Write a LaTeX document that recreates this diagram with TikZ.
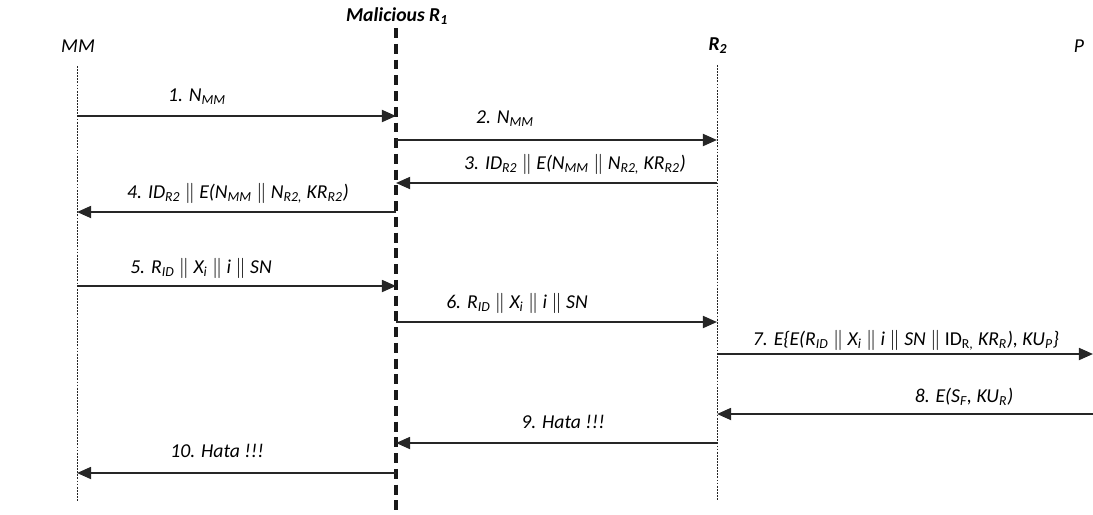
\documentclass[tikz,border=0pt]{standalone}
\usepackage{fontspec}
\setmainfont{Carlito}
\usetikzlibrary{arrows.meta, positioning}

\newcommand{\lo}[1]{\textsubscript{#1}}
\newcommand{\cc}{~$\|$~}

\begin{document}
\begin{tikzpicture}[
    x=0.025cm, y=-0.025cm,
    actor/.style={font=\fontsize{14}{16}\selectfont\itshape, inner sep=0pt},
    lifeline/.style={draw=black!85, line width=0.6pt, dash pattern=on 1.3pt off 0.9pt},
    attacker/.style={draw=black!90, line width=2.3pt, dash pattern=on 7pt off 4.2pt},
    msg/.style={draw=black!85, line width=1.4pt, -{Triangle[length=10pt,width=8.5pt]}},
    lbl/.style={font=\fontsize{14}{16}\selectfont\itshape, inner sep=0pt}
  ]
    \useasboundingbox (0,0) rectangle (1093,514);

    % actors
    \node[actor] (mm) at (78,46) {MM};
    \node[actor, font=\fontsize{14}{16}\selectfont\bfseries\itshape] (ra) at (397,16) {Malicious R\lo{1}};
    \node[actor, font=\fontsize{14}{16}\selectfont\bfseries\itshape] (rb) at (718,46) {R\lo{2}};
    \node[actor] (pp) at (1079,46) {P};

    % lifelines
    \coordinate (mmtop) at (77,66);  \coordinate (mmbot) at (77,502);
    \coordinate (ratop) at (396,28); \coordinate (rabot) at (396,514);
    \coordinate (rbtop) at (717,65); \coordinate (rbbot) at (717,500);
    \draw[lifeline] (mmtop) -- (mmbot);
    \draw[attacker] (ratop) -- (rabot);
    \draw[lifeline] (rbtop) -- (rbbot);

    % message points on the lifelines
    \foreach \n/\y in {1/116,2/140,3/183,4/212,5/286,6/322,7/354,8/414,9/443,10/473}{
      \coordinate (mm\n) at (77,\y);
      \coordinate (ra\n) at (396,\y);
      \coordinate (rb\n) at (717,\y);
      \coordinate (pp\n) at (1093,\y);
    }

    % messages
    \draw[msg] (mm1) -- (ra1);
    \node[lbl] (l1) at (197,97) {1. N\lo{MM}};
    \draw[msg] (ra2) -- (rb2);
    \node[lbl] (l2) at (505,119) {2. N\lo{MM}};
    \draw[msg] (rb3) -- (ra3);
    \node[lbl] (l3) at (575,164) {3. ID\lo{R2}\cc E(N\lo{MM}\cc N\lo{R2,} KR\lo{R2})};
    \draw[msg] (ra4) -- (mm4);
    \node[lbl] (l4) at (238,193) {4. ID\lo{R2}\cc E(N\lo{MM}\cc N\lo{R2,} KR\lo{R2})};
    \draw[msg] (mm5) -- (ra5);
    \node[lbl] (l5) at (201,268) {5. R\lo{ID}\cc X\lo{i}\cc i\cc SN};
    \draw[msg] (ra6) -- (rb6);
    \node[lbl] (l6) at (517,303) {6. R\lo{ID}\cc X\lo{i}\cc i\cc SN};
    \draw[msg] (rb7) -- (pp7);
    \node[lbl] (l7) at (906,340) {7. E\{E(R\lo{ID}\cc X\lo{i}\cc i\cc SN\cc {\upshape ID\lo{R,}} KR\lo{R}), KU\lo{P}\}};
    \draw[msg] (pp8) -- (rb8);
    \node[lbl] (l8) at (964,397) {8. E(S\lo{F}, KU\lo{R})};
    \draw[msg] (rb9) -- (ra9);
    \node[lbl] (l9) at (563,422) {9. Hata !!!};
    \draw[msg] (ra10) -- (mm10);
    \node[lbl] (l10) at (217,451) {10. Hata !!!};
  \end{tikzpicture}
\end{document}
